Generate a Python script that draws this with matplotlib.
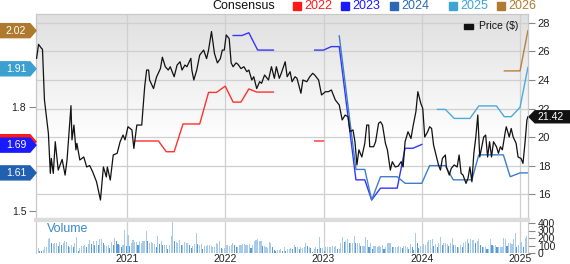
import numpy as np
import matplotlib
matplotlib.use("Agg")
import matplotlib.pyplot as plt
from matplotlib.patches import Polygon, Rectangle

plt.rcParams['font.family'] = ['Liberation Sans', 'DejaVu Sans']

# ---- data (dates as decimal years) ----
price_dates = [2020.08, 2020.10, 2020.13, 2020.14, 2020.16, 2020.20, 2020.22, 2020.23, 2020.25, 2020.27,
               2020.30, 2020.34, 2020.37, 2020.39, 2020.43, 2020.44, 2020.46, 2020.48, 2020.49, 2020.52,
               2020.56, 2020.59, 2020.62, 2020.65, 2020.69, 2020.73, 2020.76, 2020.79, 2020.80, 2020.83,
               2020.86, 2020.90, 2020.93, 2020.96, 2020.98, 2021.01, 2021.05, 2021.07, 2021.10, 2021.15,
               2021.18, 2021.20, 2021.22, 2021.23, 2021.27, 2021.30, 2021.34, 2021.36, 2021.39, 2021.42,
               2021.44, 2021.48, 2021.51, 2021.54, 2021.56, 2021.59, 2021.61, 2021.65, 2021.66, 2021.68,
               2021.71, 2021.74, 2021.78, 2021.81, 2021.83, 2021.86, 2021.89, 2021.92, 2021.95, 2021.97,
               2021.99, 2022.01, 2022.04, 2022.06, 2022.08, 2022.11, 2022.13, 2022.16, 2022.19, 2022.22,
               2022.24, 2022.27, 2022.29, 2022.32, 2022.35, 2022.37, 2022.40, 2022.44, 2022.47, 2022.50,
               2022.52, 2022.55, 2022.57, 2022.61, 2022.63, 2022.66, 2022.68, 2022.71, 2022.73, 2022.77,
               2022.79, 2022.83, 2022.86, 2022.89, 2022.91, 2022.95, 2022.98, 2023.02, 2023.05, 2023.08,
               2023.12, 2023.16, 2023.19, 2023.22, 2023.25, 2023.27, 2023.30, 2023.32, 2023.34, 2023.36,
               2023.39, 2023.42, 2023.44, 2023.46, 2023.47, 2023.51, 2023.53, 2023.56, 2023.58, 2023.60,
               2023.63, 2023.65, 2023.68, 2023.70, 2023.73, 2023.76, 2023.79, 2023.81, 2023.83, 2023.86,
               2023.89, 2023.91, 2023.94, 2023.96, 2023.99, 2024.01, 2024.03, 2024.06, 2024.08, 2024.10,
               2024.12, 2024.15, 2024.17, 2024.19, 2024.21, 2024.24, 2024.25, 2024.28, 2024.30, 2024.33,
               2024.36, 2024.38, 2024.40, 2024.42, 2024.45, 2024.47, 2024.49, 2024.51, 2024.53, 2024.55,
               2024.57, 2024.59, 2024.61, 2024.63, 2024.65, 2024.67, 2024.69, 2024.71, 2024.73, 2024.76,
               2024.78, 2024.80, 2024.82, 2024.85, 2024.86, 2024.89, 2024.91, 2024.93, 2024.96, 2024.98,
               2025.01, 2025.03, 2025.05, 2025.07, 2025.08]
price = [25.52, 26.50, 26.22, 26.15, 22.60, 20.26, 17.45, 18.50, 17.45, 19.67,
         17.68, 18.43, 17.33, 18.40, 22.20, 19.80, 20.84, 19.10, 19.56, 18.39,
         18.60, 17.90, 18.00, 17.57, 16.86, 15.58, 17.90, 17.20, 17.90, 16.98,
         18.74, 18.86, 19.67, 20.14, 19.80, 20.72, 20.50, 19.20, 20.84, 20.84,
         23.53, 24.70, 24.70, 24.00, 23.40, 24.20, 24.80, 25.60, 24.93, 24.70,
         24.93, 24.23, 25.05, 25.28, 24.70, 25.05, 24.93, 25.52, 24.70, 24.00,
         24.70, 25.75, 26.10, 25.50, 26.10, 27.40, 25.87, 25.20, 25.50, 26.10,
         26.10, 27.16, 26.90, 25.20, 24.93, 25.20, 25.10, 24.80, 24.93, 24.58,
         24.70, 24.00, 24.23, 23.40, 23.88, 23.77, 24.35, 24.00, 24.93, 24.12,
         24.93, 24.12, 24.47, 25.28, 24.23, 24.58, 23.88, 24.23, 24.12, 23.07,
         24.00, 23.88, 24.23, 24.47, 24.35, 24.00, 22.95, 23.18, 23.18, 23.30,
         22.60, 22.25, 21.20, 21.54, 21.42, 20.37, 20.50, 19.67, 18.04, 19.10,
         18.60, 19.56, 20.84, 20.84, 19.32, 19.32, 19.67, 20.96, 21.07, 20.84,
         19.56, 19.10, 17.68, 18.27, 17.90, 17.96, 18.27, 17.90, 19.67, 20.37,
         19.90, 20.72, 21.77, 23.18, 22.36, 22.00, 20.00, 20.37, 20.72, 20.60,
         19.44, 18.60, 18.04, 17.68, 18.50, 18.74, 17.90, 17.33, 17.80, 18.04,
         17.90, 18.74, 17.45, 17.33, 16.75, 17.10, 17.90, 16.86, 18.86, 20.00,
         21.54, 18.60, 19.32, 20.00, 20.14, 18.60, 19.67, 18.60, 19.67, 19.32,
         18.86, 19.32, 19.10, 20.37, 20.72, 20.00, 20.60, 20.00, 19.56, 18.60,
         18.50, 18.15, 19.56, 21.20, 21.42]

# consensus EPS by fiscal year (nan = gap)
nan = np.nan
c2022_dates = [2021.08, 2021.23, 2021.32, 2021.40, 2021.48, 2021.57, 2021.74, 2021.83, 2021.91, 2022.00,
               2022.08, 2022.16, 2022.24, 2022.32, 2022.49, 2022.70, 2022.91, 2023.00]
c2022 = [1.702, 1.702, 1.702, 1.671, 1.671, 1.751, 1.751, 1.842, 1.842, 1.860,
         1.814, 1.814, 1.852, 1.843, 1.843, nan, 1.702, 1.702]
c2023_dates = [2022.08, 2022.17, 2022.24, 2022.33, 2022.49, 2022.70, 2022.91, 2023.00, 2023.08, 2023.16,
               2023.33, 2023.42, 2023.49, 2023.58, 2023.75, 2023.83, 2023.91, 2024.00]
c2023 = [2.006, 2.006, 2.014, 1.964, 1.964, nan, 1.964, 1.964, 1.974, 1.974,
         1.590, 1.590, 1.532, 1.566, 1.566, 1.681, 1.681, 1.692]
c2024_dates = [2023.16, 2023.33, 2023.42, 2023.49, 2023.58, 2023.75, 2023.83, 2024.00, 2024.08, 2024.24,
               2024.32, 2024.51, 2024.58, 2024.83, 2024.90, 2025.00, 2025.08]
c2024 = [2.005, 1.620, 1.620, 1.532, 1.599, 1.599, 1.580, 1.580, 1.631, 1.631,
         1.590, 1.590, 1.662, 1.662, 1.599, 1.610, 1.610]
c2025_dates = [2024.16, 2024.24, 2024.33, 2024.49, 2024.58, 2024.76, 2024.84, 2024.91, 2025.00, 2025.08]
c2025 = [1.793, 1.793, 1.767, 1.767, 1.803, 1.803, 1.772, 1.772, 1.799, 1.914]
c2026_dates = [2024.84, 2025.00, 2025.08]
c2026 = [1.904, 1.904, 2.020]

years = ['2022', '2023', '2024', '2025', '2026']
year_colors = ['#ff1a1a', '#1a1aff', '#2a68b4', '#3ea4d6', '#b07a30']
line_colors = ['#ff3030', '#3535ff', '#3f7fc6', '#4aabdc', '#b5823a']

# left-side consensus flags (value, colour)
flag_vals = [1.70, 2.02, 1.91, 1.69, 1.61]
flag_labels = ['', '2.02', '1.91', '1.69', '1.61']
flag_colors = ['#ff1a1a', '#b07a2e', '#3ba0d0', '#1a1aff', '#2160b0']

last_price = 21.42

volume = [44, 67, 31, 22, 44, 75, 75, 190, 200, 133, 120, 133, 133, 89, 147, 111, 133, 155, 147, 89,
          75, 111, 75, 133, 209, 31, 67, 89, 89, 111, 75, 120, 178, 120, 155, 102, 164, 111, 190, 190,
          133, 111, 89, 111, 67, 147, 111, 200, 155, 120, 111, 75, 102, 302, 89, 244, 89, 133, 178, 147,
          147, 111, 155, 133, 164, 155, 289, 164, 133, 147, 133, 120, 75,
          222, 120, 155, 102, 111, 111, 58, 111, 222, 431, 155, 147, 133, 178, 102, 102, 147, 133, 133,
          102, 67, 89, 120, 266, 120, 102, 120, 58, 89, 89, 102, 111, 89, 75, 75, 133, 120, 164, 67,
          58, 67, 111, 111, 89, 111, 133, 102, 75, 75, 111, 102, 120, 120, 111, 102, 120, 67, 111, 155,
          178, 190, 164, 164, 89, 89, 75, 67, 147, 133, 75, 44, 31, 44, 44,
          49, 31, 75, 31, 49, 49, 62, 49, 107, 75, 84, 49, 75, 62, 84, 129, 93, 84, 62, 18,
          49, 75, 49, 209, 62, 62, 31, 75, 84, 84, 75, 93, 75, 93, 49, 49, 138, 218, 151, 164,
          182, 129, 129, 129, 227, 138, 129, 129, 93, 93, 93, 209, 173, 75, 129, 49, 93, 93, 84, 93,
          84, 107, 49, 75, 138, 138, 129, 75, 75, 84, 75, 93, 84, 62, 93, 93, 75, 49, 120, 75,
          40, 271, 138, 62, 93, 93, 120, 107, 151, 173, 173, 182, 93, 120, 75, 129, 209, 107, 129, 129,
          120, 93, 129, 196, 107, 107, 84, 84, 107, 84, 129, 151, 182, 129, 182, 173, 173, 138, 164, 182,
          107, 75, 75, 75, 49, 49, 182, 107, 93, 107, 75, 84, 75, 75, 196, 182, 93, 129, 129, 120,
          182, 271, 75, 107, 129, 151, 84, 196, 227]
vol_dates = np.linspace(2020.08, 2025.07, len(volume))

price_ticks = [16, 18, 20, 22, 24, 26, 28]
eps_ticks = [1.5, 1.8]
vol_ticks = [0, 100, 200, 300, 400]
year_ticks = [2021, 2022, 2023, 2024, 2025]

# ---- figure ----
W, H = 570, 264
fig = plt.figure(figsize=(W / 100, H / 100), dpi=100)
x0, x1 = 36 / W, 528 / W
ax = fig.add_axes([x0, 1 - 218 / H, x1 - x0, (218 - 14) / H])
axp = ax.twinx()
axv = fig.add_axes([x0, 1 - 253 / H, x1 - x0, (253 - 220) / H])

xlim = (2020.074, 2025.081)
plo, phi = 14.32, 28.63
elo, ehi = 1.48, 2.068
for a in (ax, axp, axv):
    a.set_xlim(*xlim)
ax.set_ylim(elo, ehi)
axp.set_ylim(plo, phi)
axv.set_ylim(0, 440)

# gradient background
grad = np.linspace(0, 1, 100).reshape(-1, 1)
grad = np.clip(grad * 1.6, 0, 1)
ax.imshow(grad, cmap=matplotlib.colors.LinearSegmentedColormap.from_list('g', ['#e0e0e0', '#ffffff']),
          extent=[0, 1, 0, 1], transform=ax.transAxes, aspect='auto', origin='upper', zorder=0)

grid_c = '#cfcfcf'
for p in price_ticks:
    f = (p - plo) / (phi - plo)
    ax.plot([0, 1], [f, f], transform=ax.transAxes, color=grid_c, lw=0.9, zorder=1)
for yr in year_ticks:
    ax.axvline(yr, color=grid_c, lw=0.9, zorder=1)
    axv.axvline(yr, color=grid_c, lw=0.9, zorder=0)

# consensus lines
for d, v, c in zip([c2022_dates, c2023_dates, c2024_dates, c2025_dates, c2026_dates],
                   [c2022, c2023, c2024, c2025, c2026], line_colors):
    ax.plot(d, v, color=c, lw=1.0, zorder=3)

# price line
axp.plot(price_dates, price, color='#111111', lw=0.9, zorder=4)

# axes styling
for a in (ax, axp, axv):
    for s in a.spines.values():
        s.set_color('#c8c8c8')
        s.set_linewidth(0.8)
ax.set_xticks([])
axp.set_xticks([])
ax.set_yticks(eps_ticks)
ax.set_yticklabels(['1.8' if t == 1.8 else '1.5' for t in eps_ticks])
ax.tick_params(axis='y', length=5, width=0.8, color='#888888', labelsize=7.5, labelcolor='#222222', pad=2)
axp.set_yticks(price_ticks)
axp.set_yticklabels([str(t) for t in price_ticks])
axp.tick_params(axis='y', length=5, width=0.8, color='#888888', labelsize=8, labelcolor='#222222', pad=2)

# volume panel
vcol = []
for i, v in enumerate(volume):
    vcol.append('#5b9bd5' if i > 0 and v < volume[i - 1] * 0.8 else '#a9cbea')
axv.bar(vol_dates, volume, width=0.011, color=vcol, zorder=2)
axv.spines['top'].set_color('#dcdcdc')
axv.spines['top'].set_linewidth(3)
axv.spines['bottom'].set_visible(False)
axv.yaxis.tick_right()
axv.set_yticks(vol_ticks)
axv.set_yticklabels([str(t) for t in vol_ticks])
axv.tick_params(axis='y', length=5, width=0.8, color='#888888', labelsize=7.5, labelcolor='#222222', pad=2)
axv.set_xticks(year_ticks)
axv.set_xticklabels([str(y) for y in year_ticks])
axv.tick_params(axis='x', length=0, labelsize=7.5, labelcolor='#222222', pad=0.5)
axv.text(0.022, 0.90, 'Volume', transform=axv.transAxes, color='#3a8ac8', fontsize=9, va='top')

# legend row at top
fig.text(244 / W, 1 - 6 / H, 'Consensus', ha='center', va='center', fontsize=9, color='#111111')
lx = [293, 341, 390, 449, 497]
for x, yr, c in zip(lx, years, year_colors):
    fig.patches.append(Rectangle((x / W, 1 - 10 / H), 8 / W, 8 / H, transform=fig.transFigure,
                                 color=c, figure=fig))
    fig.text((x + 11) / W, 1 - 6 / H, yr, ha='left', va='center', fontsize=9, color=c)

# Price legend
axp.add_patch(Rectangle((0.870, 0.928), 0.018, 0.024, transform=axp.transAxes, color='#111111',
                        zorder=6, clip_on=False))
axp.text(0.900, 0.940, 'Price ($)', transform=axp.transAxes, fontsize=7.5, color='#111111',
         va='center', ha='left', zorder=6)

# left flags
fig.canvas.draw()
for v, lab, c in zip(flag_vals, flag_labels, flag_colors):
    yc = ax.transData.transform((xlim[0], v))[1]
    hh = 7
    pts = [(0, yc - hh), (30, yc - hh), (36, yc), (30, yc + hh), (0, yc + hh)]
    fig.patches.append(Polygon(pts, closed=True, transform=None, color=c, figure=fig, zorder=5))
    if lab:
        fig.text(16 / W, yc / H, lab, ha='center', va='center', fontsize=7.5, color='white', zorder=6)

# right last-price flag
yc = axp.transData.transform((xlim[1], last_price))[1]
pts = [(529, yc), (535, yc - 6), (570, yc - 6), (570, yc + 6), (535, yc + 6)]
fig.patches.append(Polygon(pts, closed=True, transform=None, color='#111111', figure=fig, zorder=5))
fig.text(551 / W, yc / H, '21.42', ha='center', va='center', fontsize=7.5, color='white', zorder=6)

fig.savefig('out.png', dpi=100)
